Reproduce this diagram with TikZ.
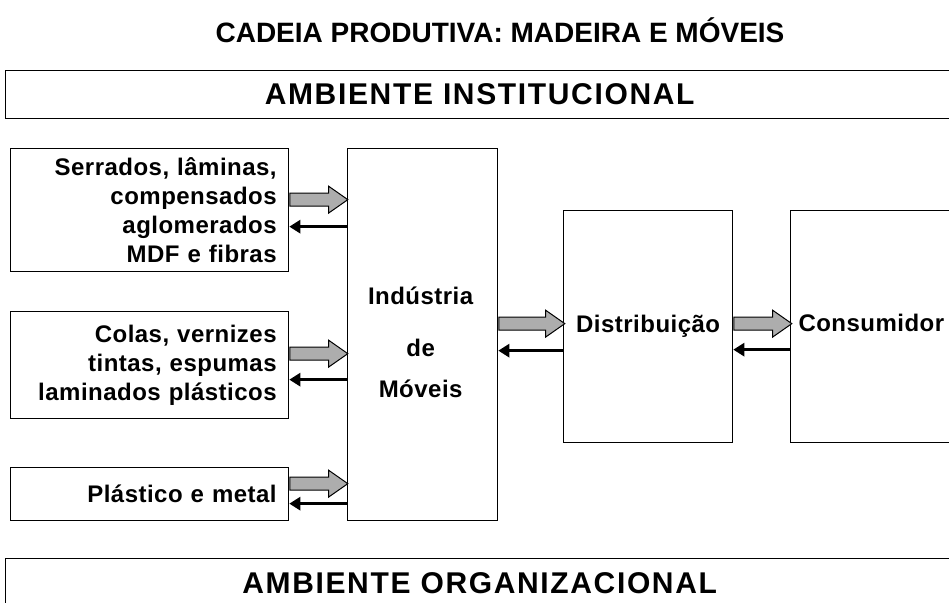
\documentclass[tikz,border=0pt]{standalone}
\usepackage{fontspec}
\setmainfont{Liberation Sans}
\newfontfamily\letraespacada[LetterSpace=2]{Liberation Sans}
\newfontfamily\letraambiente[LetterSpace=5.5]{Liberation Sans}
\usetikzlibrary{calc,arrows.meta,shapes.arrows}
\tikzset{
	caixa/.style={draw, line width=1.3pt, rectangle, inner sep=0pt, anchor=north west},
	rotulo/.style={font=\letraespacada\bfseries\fontsize{24}{29}\selectfont},
	setacinza/.style={single arrow, draw, line width=1pt, fill=black!32, minimum height=#1, inner xsep=0pt, inner ysep=6pt, text height=0pt, text depth=0pt, single arrow head extend=7pt, single arrow tip angle=70, anchor=west},
	setapreta/.style={line width=3pt, -{Triangle[length=11pt,width=13pt]}}
}

\begin{document}
\begin{tikzpicture}[x=1pt, y=-1pt]
			%%%%% START %%%%%
			\useasboundingbox (0,0) rectangle (949,602);
			
			\node[font=\bfseries\fontsize{28}{32}\selectfont] (titulo) at (500,30) {CADEIA PRODUTIVA: MADEIRA E MÓVEIS};
			\node[caixa, minimum width=948pt, minimum height=48pt, font=\letraambiente\bfseries\fontsize{30}{34}\selectfont] (institucional) at (5,70) {AMBIENTE INSTITUCIONAL};
			
			\node[caixa, rotulo, minimum width=278pt, minimum height=123pt, text width=254pt, inner xsep=12pt, align=right] (serrados) at (10,148) {Serrados, lâminas,\\compensados\\aglomerados\\MDF e fibras};
			\node[caixa, rotulo, minimum width=278pt, minimum height=107pt, text width=254pt, inner xsep=12pt, align=right] (colas) at (10,311) {Colas, vernizes\\tintas, espumas\\laminados plásticos};
			\node[caixa, rotulo, minimum width=278pt, minimum height=53pt, text width=254pt, inner xsep=12pt, align=right] (plastico) at (10,467) {Plástico e metal};
			
			\node[caixa, minimum width=150pt, minimum height=372pt] (industria) at (347,148) {};
			\node[rotulo, align=center] (rotindustria) at ($(industria.center)+(-2,8)$) {Indústria\\[23pt]de\\[12pt]Móveis};
			
			\node[caixa, rotulo, minimum width=169pt, minimum height=232pt] (distribuicao) at (563,210) {Distribuição};
			\node[caixa, minimum width=200pt, minimum height=232pt] (consumidor) at (790,210) {};
			\node[rotulo, anchor=west] (rotconsumidor) at ($(consumidor.west)+(5,-4)$) {Consumidor};
			
			% entradas da industria
			\node[setacinza=58pt] (cinza1) at ($(serrados.east)+(0,-10.5)$) {};
			\draw[setapreta] ($(industria.west |- serrados.east)+(0,16.5)$) -- ($(serrados.east)+(0,16.5)$);
			\node[setacinza=58pt] (cinza2) at ($(colas.east)+(0,-11.5)$) {};
			\draw[setapreta] ($(industria.west |- colas.east)+(0,14.5)$) -- ($(colas.east)+(0,14.5)$);
			\node[setacinza=58pt] (cinza3) at ($(plastico.east)+(0,-10.5)$) {};
			\draw[setapreta] ($(industria.west |- plastico.east)+(0,9.5)$) -- ($(plastico.east)+(0,9.5)$);
			
			% saidas
			\node[setacinza=66pt] (cinza4) at ($(industria.east |- distribuicao.east)+(0,-3)$) {};
			\draw[setapreta] ($(distribuicao.west)+(0,24)$) -- ($(industria.east |- distribuicao.west)+(0,24)$);
			\node[setacinza=58pt] (cinza5) at ($(distribuicao.east)+(0,-3)$) {};
			\draw[setapreta] ($(consumidor.west)+(0,23)$) -- ($(distribuicao.east)+(0,23)$);
			
			\node[caixa, minimum width=948pt, minimum height=50pt, font=\letraambiente\bfseries\fontsize{30}{34}\selectfont] (organizacional) at (5,558) {AMBIENTE ORGANIZACIONAL};
			%%%%% END %%%%%
		\end{tikzpicture}
\end{document}
